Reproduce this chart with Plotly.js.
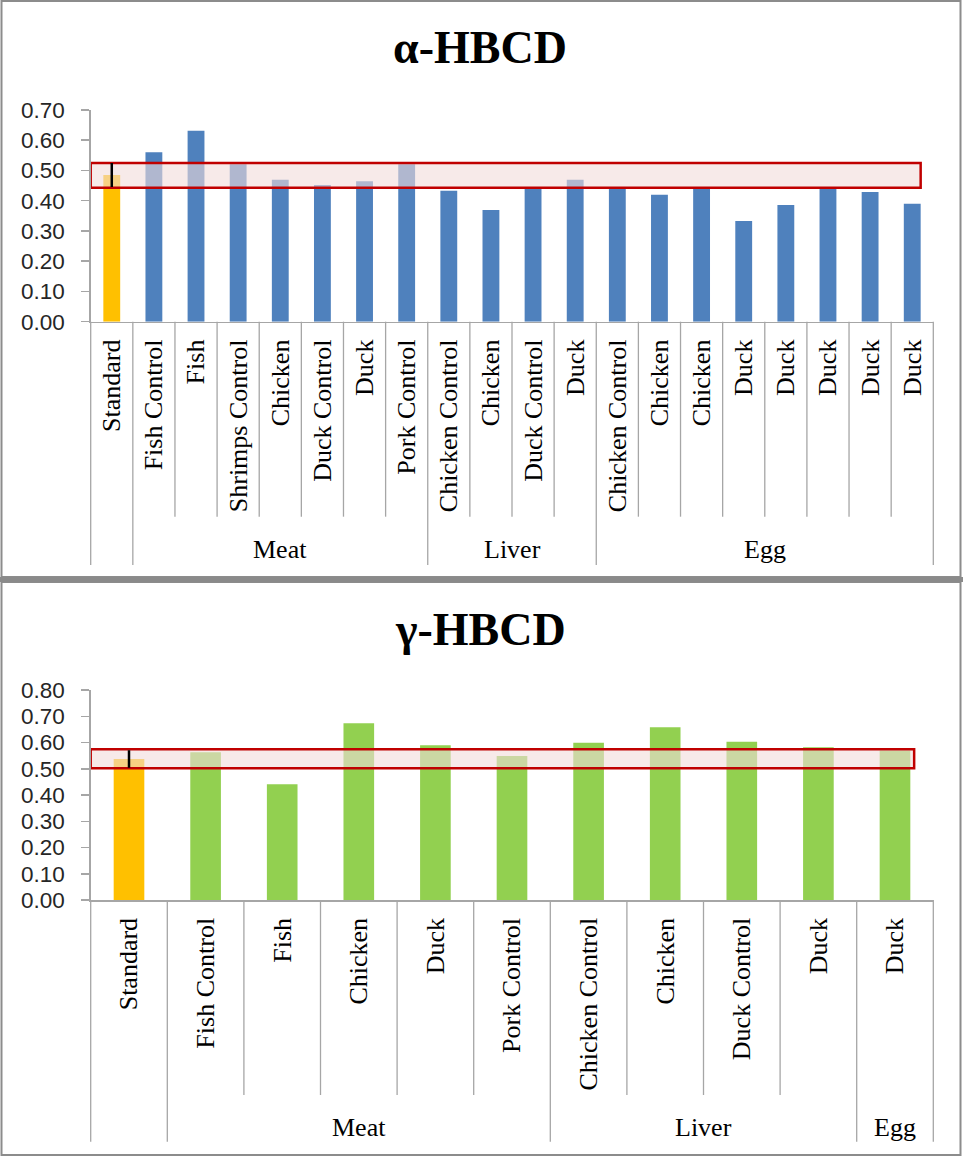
<!DOCTYPE html>
<html>
<head>
<meta charset="utf-8">
<script src="https://cdn.plot.ly/plotly-3.0.1.min.js"></script>
<style>
html,body{margin:0;padding:0;background:#fff;}
#chart{width:963px;height:1156px;}
</style>
</head>
<body>
<div id="chart"></div>
<script>
// ---------------- data : alpha-HBCD ----------------
const alphaCategories = ['Standard',
  'Fish Control','Fish','Shrimps Control','Chicken','Duck Control','Duck','Pork Control',
  'Chicken Control','Chicken','Duck Control','Duck',
  'Chicken Control','Chicken','Chicken','Duck','Duck','Duck','Duck','Duck'];
const alphaValues = [0.485,
  0.560,0.631,0.521,0.469,0.452,0.464,0.521,
  0.433,0.369,0.445,0.469,
  0.445,0.420,0.445,0.333,0.386,0.445,0.429,0.390];
const alphaGroupNames = ['', 'Meat', 'Liver', 'Egg'];
const alphaGroupSizes = [1, 7, 4, 8];
const alphaStandardError = 0.04;
const alphaBand = [0.443, 0.525];      // acceptance band (y range)
const alphaBandX = [-0.5, 19.2];       // band extent along the category axis
const alphaTicks = [0,0.1,0.2,0.3,0.4,0.5,0.6,0.7];

// ---------------- data : gamma-HBCD ----------------
const gammaCategories = ['Standard',
  'Fish Control','Fish','Chicken','Duck','Pork Control',
  'Chicken Control','Chicken','Duck Control','Duck',
  'Duck'];
const gammaValues = [0.537,
  0.563,0.441,0.673,0.590,0.549,
  0.599,0.658,0.603,0.582,
  0.570];
const gammaGroupNames = ['', 'Meat', 'Liver', 'Egg'];
const gammaGroupSizes = [1, 5, 4, 1];
const gammaStandardError = 0.033;
const gammaBand = [0.502, 0.574];
const gammaBandX = [-0.5, 10.25];
const gammaTicks = [0,0.1,0.2,0.3,0.4,0.5,0.6,0.7,0.8];

// ---------------- geometry helpers ----------------
const W = 963, H = 1156;
const px = x => x / W;
const py = y => 1 - y / H;

const STD_COLOR = '#FFC000';
const AXIS_COLOR = '#a6a6a6';

const panels = [
  {cats: alphaCategories, vals: alphaValues, groups: alphaGroupNames, sizes: alphaGroupSizes,
   err: alphaStandardError, band: alphaBand, bandX: alphaBandX, ticks: alphaTicks, color: '#4F81BD',
   title: 'α-HBCD', titleY: 48, xl: 90.7, xr: 933.3, y0: 321.7, yTop: 110,
   innerEnd: 516.7, groupEnd: 565, groupLabelY: 549, xa: 'x', ya: 'y'},
  {cats: gammaCategories, vals: gammaValues, groups: gammaGroupNames, sizes: gammaGroupSizes,
   err: gammaStandardError, band: gammaBand, bandX: gammaBandX, ticks: gammaTicks, color: '#92D050',
   title: 'γ-HBCD', titleY: 629, xl: 90.7, xr: 933.3, y0: 900, yTop: 690,
   innerEnd: 1095, groupEnd: 1141.7, groupLabelY: 1127, xa: 'x2', ya: 'y2'}
];

const traces = [];
const shapes = [];
const annotations = [];
const layout = {
  width: W, height: H,
  margin: {l: 0, r: 0, t: 0, b: 0},
  paper_bgcolor: '#ffffff', plot_bgcolor: 'rgba(0,0,0,0)',
  showlegend: false,
  barmode: 'overlay',
  shapes: shapes, annotations: annotations
};

panels.forEach((p, k) => {
  const n = p.cats.length;
  const idx = p.cats.map((_, i) => i);
  const xName = k === 0 ? 'xaxis' : 'xaxis2';
  const yName = k === 0 ? 'yaxis' : 'yaxis2';
  const ymax = p.ticks[p.ticks.length - 1];

  // standard bar
  traces.push({
    type: 'bar', x: [idx[0]], y: [p.vals[0]], width: 0.4,
    marker: {color: STD_COLOR, line: {width: 0}},
    xaxis: p.xa, yaxis: p.ya, hoverinfo: 'x+y'
  });
  // sample bars
  traces.push({
    type: 'bar', x: idx.slice(1), y: p.vals.slice(1), width: 0.4,
    marker: {color: p.color, line: {width: 0}},
    xaxis: p.xa, yaxis: p.ya, hoverinfo: 'x+y'
  });
  // translucent acceptance band (drawn over the bars)
  traces.push({
    type: 'scatter', mode: 'lines', fill: 'toself',
    x: [p.bandX[0], p.bandX[1], p.bandX[1], p.bandX[0], p.bandX[0]],
    y: [p.band[0], p.band[0], p.band[1], p.band[1], p.band[0]],
    fillcolor: 'rgba(242,220,219,0.6)',
    line: {color: '#C00000', width: 2.5},
    cliponaxis: false,
    xaxis: p.xa, yaxis: p.ya, hoverinfo: 'skip'
  });
  // error bar of the standard, drawn above the band
  traces.push({
    type: 'scatter', mode: 'markers', x: [idx[0]], y: [p.vals[0]],
    marker: {size: 1, opacity: 0},
    error_y: {type: 'data', array: [p.err], visible: true, color: '#000000', thickness: 2.5, width: 0},
    cliponaxis: false,
    xaxis: p.xa, yaxis: p.ya, hoverinfo: 'skip'
  });

  layout[xName] = {
    domain: [px(p.xl), px(p.xr)],
    range: [-0.5, n - 0.5],
    anchor: p.ya,
    tickmode: 'array', tickvals: idx, ticktext: p.cats,
    tickangle: -90, ticks: '', ticklabelstandoff: 6,
    tickfont: {family: 'Liberation Serif, Times New Roman, serif', size: 26, color: '#000000'},
    showline: true, linecolor: AXIS_COLOR, linewidth: 1.5,
    showgrid: false, zeroline: false, fixedrange: true
  };
  layout[yName] = {
    domain: [py(p.y0), py(p.yTop)],
    range: [0, ymax],
    anchor: p.xa,
    tickmode: 'array', tickvals: p.ticks, ticktext: p.ticks.map(v => v.toFixed(2)),
    ticks: 'outside', ticklen: 8, tickcolor: AXIS_COLOR, tickwidth: 1.5,
    ticklabelstandoff: 12,
    tickfont: {family: 'Liberation Sans, Arial, sans-serif', size: 22.5, color: '#262626'},
    showline: true, linecolor: AXIS_COLOR, linewidth: 1.5,
    showgrid: false, zeroline: false, fixedrange: true
  };

  // category dividers below the axis
  const groupBounds = new Set([0]);
  let acc = 0;
  p.sizes.forEach(s => { acc += s; groupBounds.add(acc); });
  const step = (p.xr - p.xl) / n;
  for (let b = 0; b <= n; b++) {
    const xp = px(p.xl + b * step);
    const isGroup = groupBounds.has(b);
    shapes.push({
      type: 'line', xref: 'paper', yref: 'paper',
      x0: xp, x1: xp, y0: py(p.y0), y1: py(isGroup ? p.groupEnd : p.innerEnd),
      line: {color: AXIS_COLOR, width: 1.3}, layer: 'above'
    });
  }

  // group labels
  let start = 0;
  p.sizes.forEach((s, g) => {
    if (p.groups[g]) {
      annotations.push({
        xref: p.xa, yref: 'paper',
        x: start + (s - 1) / 2, y: py(p.groupLabelY),
        text: p.groups[g], showarrow: false, xanchor: 'center', yanchor: 'middle',
        font: {family: 'Liberation Serif, Times New Roman, serif', size: 26, color: '#000000'}
      });
    }
    start += s;
  });

  // title
  annotations.push({
    xref: 'paper', yref: 'paper', x: px(480), y: py(p.titleY),
    text: p.title, showarrow: false, xanchor: 'center', yanchor: 'middle',
    font: {family: 'Liberation Serif, Times New Roman, serif', size: 46, color: '#000000', weight: 'bold'}
  });
});

// panel frames
shapes.push({type: 'rect', xref: 'paper', yref: 'paper',
  x0: px(1.5), x1: px(960.5), y0: py(577), y1: py(1), line: {color: '#8c8c8c', width: 2}, layer: 'below'});
shapes.push({type: 'rect', xref: 'paper', yref: 'paper',
  x0: px(1.5), x1: px(960.5), y0: py(1155), y1: py(582), line: {color: '#8c8c8c', width: 2}, layer: 'below'});
shapes.push({type: 'rect', xref: 'paper', yref: 'paper',
  x0: px(0), x1: px(963), y0: py(582), y1: py(577), fillcolor: '#8a8a8a', line: {width: 0}, layer: 'below'});

Plotly.newPlot('chart', traces, layout, {displayModeBar: false, staticPlot: true});
</script>
</body>
</html>
